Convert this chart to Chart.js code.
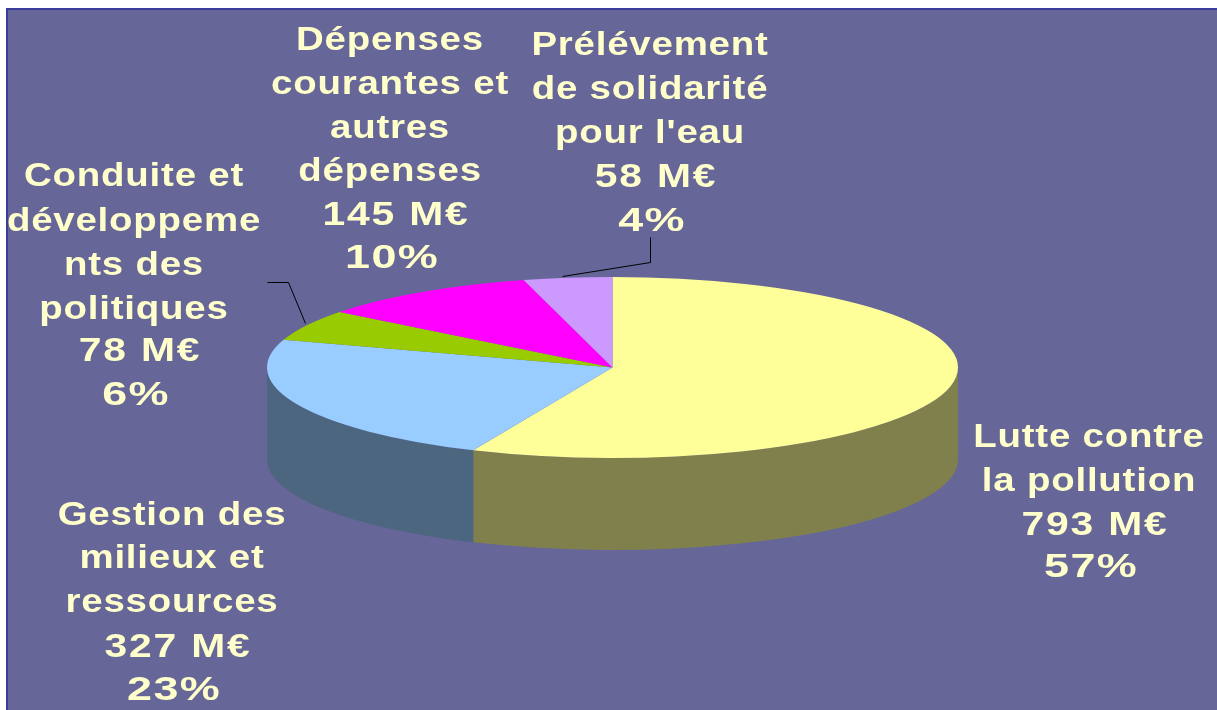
<!DOCTYPE html>
<html><head><meta charset="utf-8">
<style>html,body{margin:0;padding:0;background:#fff;overflow:hidden}#w{position:absolute;left:0;top:0;width:1217px;height:710px}</style>
<script src="https://cdn.jsdelivr.net/npm/chart.js@4"></script>
</head><body><div id="w"><canvas id="c" width="1217" height="710"></canvas></div>
<script>
const categories = ["Lutte contre la pollution","Gestion des milieux et ressources","Conduite et développements des politiques","Dépenses courantes et autres dépenses","Prélévement de solidarité pour l'eau"];
const values = [793,327,78,145,58];
const percents = [57,23,6,10,4];
const labelLines = [["Lutte contre","la pollution"],["Gestion des","milieux et","ressources"],["Conduite et","développeme","nts des","politiques"],["Dépenses","courantes et","autres","dépenses"],["Prélévement","de solidarité","pour l'eau"]];
const topColors = ["#FFFF99","#99CCFF","#99CC00","#FF00FF","#CC99FF"];
const sideColors = ["#80804D","#4D6680","#4D6600","#800080","#664D80"];
const labelCenters = [1089,172,134,390,650];
const labelBaselines = [[447,491,535,577],[525,568,612,657,700],[186,231,275,319,361,405],[50,94,138,181,225,268],[55,99,143,187,231]];

const PIE = {cx:612.5, cy:367.5, ry:90.5, depth:92};
const panel = {x:6, y:8};
const leaders = [[[267,282],[288,282],[305,323]],[[562,276],[650,262],[650,237]]];

function pieGeom(chart){
  const a = chart.getDatasetMeta(0).data[0];
  const p = a.getProps(['x','y','outerRadius'],true);
  return {x:p.x,y:p.y,r:p.outerRadius,k:PIE.ry/p.outerRadius};
}
const pie3d = {
  id:'pie3d',
  beforeDraw(chart){
    const c = chart.ctx;
    c.save();
    c.fillStyle='#fff'; c.fillRect(0,0,chart.width,chart.height);
    c.fillStyle='#666699'; c.fillRect(panel.x,panel.y,chart.width,chart.height);
    c.fillStyle='#3C3C9C';
    c.fillRect(panel.x,panel.y,chart.width,2);
    c.fillRect(panel.x,panel.y,2,chart.height);
    c.restore();
  },
  beforeDatasetsDraw(chart){
    const c = chart.ctx, g = pieGeom(chart);
    const meta = chart.getDatasetMeta(0);
    const rx = g.r, ry = PIE.ry;
    meta.data.forEach((arc,i)=>{
      const p = arc.getProps(['startAngle','endAngle'],true);
      const twoPi = Math.PI*2;
      for (const shift of [0,twoPi,-twoPi]) {
        const s = Math.max(p.startAngle+shift,0), e = Math.min(p.endAngle+shift,Math.PI);
        if (e<=s) continue;
        c.save();
        c.beginPath();
        c.ellipse(PIE.cx,PIE.cy,rx,ry,0,s,e,false);
        c.ellipse(PIE.cx,PIE.cy+PIE.depth,rx,ry,0,e,s,true);
        c.closePath();
        c.fillStyle = sideColors[i];
        c.fill();
        c.restore();
      }
    });
    c.save();
    c.translate(PIE.cx,PIE.cy); c.scale(1,g.k); c.translate(-g.x,-g.y);
  },
  afterDatasetsDraw(chart){
    const c = chart.ctx;
    c.restore();
    c.save();
    c.strokeStyle='#000'; c.lineWidth=1;
    leaders.forEach(l=>{c.beginPath();l.forEach((pt,i)=>i?c.lineTo(pt[0]+.5,pt[1]+.5):c.moveTo(pt[0]+.5,pt[1]+.5));c.stroke();});
    c.fillStyle='#FFFFCC';
    c.textAlign='center'; c.textBaseline='alphabetic';
    c.font='bold 34px "Liberation Sans"';
    labelLines.forEach((ls,i)=>{
      const n=ls.length;
      const lines=[...ls,values[i]+' M€',percents[i]+'%'];
      lines.forEach((t,j)=>{
        c.save();
        const dx = j===n ? 6 : (j===n+1 ? 2 : 0);
        c.translate(labelCenters[i]+dx,labelBaselines[i][j]);
        c.scale(j===n ? 1.2 : (j===n+1 ? 1.32 : 1.13),1);
        c.letterSpacing = j===n ? '1.5px' : (j===n+1 ? '1px' : '0.7px');
        c.fillText(t,0,0);
        c.restore();
      });
    });
    c.restore();
  }
};
new Chart(document.getElementById('c'),{
  type:'pie',
  data:{labels:categories,datasets:[{data:values,backgroundColor:topColors,borderWidth:0,hoverOffset:0}]},
  options:{
    responsive:false,animation:false,
    layout:{padding:{left:8,top:9,bottom:10,right:0}},
    plugins:{legend:{display:false},tooltip:{enabled:false}},
    events:[]
  },
  plugins:[pie3d]
});
</script></body></html>
